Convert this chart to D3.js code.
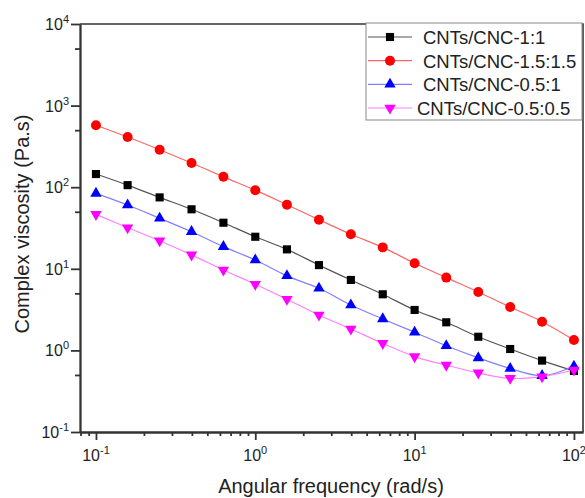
<!DOCTYPE html>
<html>
<head>
<meta charset="utf-8">
<script src="https://cdn.jsdelivr.net/npm/d3@7"></script>
<style>
  body { margin: 0; background: #fff; }
  text { font-family: 'Liberation Sans', Arial, sans-serif; fill: #222; }
</style>
</head>
<body>
<div id="chart"></div>
<script>
// angular frequency (rad/s)
const freq = [0.1, 0.158, 0.251, 0.398, 0.631, 1, 1.58, 2.51, 3.98, 6.31, 10, 15.8, 25.1, 39.8, 63.1, 100];

// complex viscosity (Pa.s)
const visc11 = [145, 106, 75, 53.6, 36.7, 24.7, 17.3, 11.1, 7.3, 4.87, 3.13, 2.21, 1.47, 1.04, 0.75, 0.56];
const visc1515 = [574, 412, 288, 198, 134, 92, 61, 40, 26.5, 18.3, 11.7, 7.8, 5.2, 3.4, 2.25, 1.34];
const visc051 = [84, 60.5, 41.6, 28.5, 18.7, 12.8, 8.2, 5.77, 3.6, 2.43, 1.67, 1.14, 0.81, 0.6, 0.49, 0.64];
const visc0505 = [46.5, 31.9, 22.1, 14.8, 9.66, 6.46, 4.23, 2.72, 1.83, 1.22, 0.84, 0.66, 0.53, 0.455, 0.476, 0.575];

const names = ['CNTs/CNC-1:1', 'CNTs/CNC-1.5:1.5', 'CNTs/CNC-0.5:1', 'CNTs/CNC-0.5:0.5'];
const markColors = ['#000000', '#ff0000', '#0000ff', '#ff00ff'];
const lineColors = ['#555555', '#ff6666', '#8080ff', '#ff80ff'];

const xExps = [-1, 0, 1, 2];
const yExps = [-1, 0, 1, 2, 3, 4];
const yMinor = [0.5, 5, 50, 500, 5000];

const width = 585;
const height = 498;
const margin = {
  top: 24, bottom: 66, right: 2, left: 80,
};

const series = [visc11, visc1515, visc051, visc0505].map((vals, i) => ({
  name: names[i],
  mark: markColors[i],
  line: lineColors[i],
  shape: i,
  points: vals.map((v, j) => ({ f: freq[j], v })),
}));

const svg = d3.select('#chart')
  .append('svg')
  .attr('width', width)
  .attr('height', height);

const x = d3.scaleLog()
  .domain([0.0794, 114])
  .range([margin.left, width - margin.right]);

const y = d3.scaleLog()
  .domain([0.1, 10000])
  .range([height - margin.bottom, margin.top]);

const axisColor = '#333';
const x0 = margin.left;
const x1 = width - margin.right;
const y0 = height - margin.bottom;
const y1 = margin.top;

// frame top/right
svg.append('path')
  .attr('d', `M${x0},${y1}H${x1}V${y0}`)
  .attr('fill', 'none')
  .attr('stroke', axisColor)
  .attr('stroke-width', 1.6);

const xMinor = x.ticks().filter((t) => !xExps.some((e) => Math.abs(t - 10 ** e) < 1e-9));

// bottom axis
const gx = svg.append('g')
  .attr('transform', `translate(0, ${y0})`);
gx.append('g')
  .call(d3.axisBottom(x).tickValues(xMinor).tickSize(4).tickSizeOuter(0).tickFormat(''));
gx.append('g')
  .call(d3.axisBottom(x).tickValues(xExps.map((e) => 10 ** e)).tickSize(8).tickSizeOuter(0).tickFormat(''));
gx.selectAll('path, line')
  .attr('stroke', axisColor)
  .attr('stroke-width', 1.8);

// left axis
const gy = svg.append('g')
  .attr('transform', `translate(${x0}, 0)`);
gy.append('g')
  .call(d3.axisLeft(y).tickValues(yMinor).tickSize(5).tickSizeOuter(0).tickFormat(''));
gy.append('g')
  .call(d3.axisLeft(y).tickValues(yExps.map((e) => 10 ** e)).tickSize(9).tickSizeOuter(0).tickFormat(''));
gy.selectAll('path, line')
  .attr('stroke', axisColor)
  .attr('stroke-width', 1.8);

// tick labels as 10^n
const xLab = svg.append('g')
  .selectAll('text')
  .data(xExps)
  .join('text')
  .attr('x', (e) => x(10 ** e))
  .attr('y', y0 + 29)
  .attr('text-anchor', 'middle')
  .style('font-size', '16px');
xLab.append('tspan').text('10');
xLab.append('tspan').attr('dy', -7).style('font-size', '11px').text((e) => e);

const yLab = svg.append('g')
  .selectAll('text')
  .data(yExps)
  .join('text')
  .attr('x', x0 - 11)
  .attr('y', (e) => y(10 ** e) + 6)
  .attr('text-anchor', 'end')
  .style('font-size', '16px');
yLab.append('tspan').text('10');
yLab.append('tspan').attr('dy', -7).style('font-size', '11px').text((e) => e);

// axis titles
svg.append('text')
  .attr('x', 331)
  .attr('y', 493)
  .attr('text-anchor', 'middle')
  .style('font-size', '20px')
  .text('Angular frequency (rad/s)');

svg.append('text')
  .attr('transform', 'translate(29, 224) rotate(-90)')
  .attr('text-anchor', 'middle')
  .style('font-size', '20px')
  .text('Complex viscosity (Pa.s)');

// curves
const line = d3.line()
  .x((d) => x(d.f))
  .y((d) => y(d.v))
  .curve(d3.curveCatmullRom.alpha(0.5));

svg.append('g')
  .selectAll('path')
  .data(series)
  .join('path')
  .attr('d', (s) => line(s.points))
  .attr('fill', 'none')
  .attr('stroke', (s) => s.line)
  .attr('stroke-width', 1.2);

const shapes = [
  d3.symbol().type(d3.symbolSquare).size(66),
  d3.symbol().type(d3.symbolCircle).size(78),
  d3.symbol().type(d3.symbolTriangle).size(56),
  d3.symbol().type(d3.symbolTriangle).size(56),
];
const rot = (k) => (k === 3 ? ' rotate(180)' : '');

series.forEach((s) => {
  svg.append('g')
    .selectAll('path')
    .data(s.points)
    .join('path')
    .attr('d', shapes[s.shape])
    .attr('transform', (d) => `translate(${x(d.f)}, ${y(d.v)})${rot(s.shape)}`)
    .attr('fill', s.mark);
});

// legend
const legend = svg.append('g');
legend.append('rect')
  .attr('x', 366)
  .attr('y', 23)
  .attr('width', 216)
  .attr('height', 97)
  .attr('fill', '#fff')
  .attr('stroke', '#888')
  .attr('stroke-width', 1);

const rowY = d3.scalePoint()
  .domain(names)
  .range([37, 108]);

const rows = legend.selectAll('g.row')
  .data(series)
  .join('g')
  .attr('class', 'row')
  .attr('transform', (s) => `translate(0, ${rowY(s.name)})`);

rows.append('line')
  .attr('x1', 368)
  .attr('x2', 412)
  .attr('stroke', (s) => s.line)
  .attr('stroke-width', 1.2);

rows.append('path')
  .attr('d', (s) => shapes[s.shape]())
  .attr('transform', (s) => `translate(390, 0)${rot(s.shape)}`)
  .attr('fill', (s) => s.mark);

rows.append('text')
  .attr('x', (s) => (s.shape === 3 ? 417 : 423))
  .attr('y', 7)
  .style('font-size', '18.5px')
  .text((s) => s.name);
</script>
</body>
</html>
